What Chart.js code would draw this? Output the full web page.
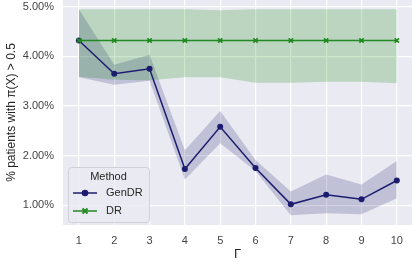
<!DOCTYPE html>
<html><head><meta charset="utf-8">
<script src="https://cdn.jsdelivr.net/npm/chart.js@4/dist/chart.umd.min.js"></script>
<style>html,body{margin:0;padding:0;background:#fff}#w{width:412px;height:262px}</style>
</head><body><div id="w"><canvas id="c" width="412" height="262"></canvas></div>
<script>
const gammas = [1,2,3,4,5,6,7,8,9,10];
const genDR      = [4.32,3.65,3.75,1.73,2.58,1.75,1.02,1.21,1.12,1.50];
const genDRUpper = [4.95,3.83,4.03,2.11,2.90,1.91,1.28,1.62,1.42,1.89];
const genDRLower = [3.58,3.43,3.51,1.52,2.25,1.69,0.80,0.84,0.82,1.14];
const dr      = [4.32,4.32,4.32,4.32,4.32,4.32,4.32,4.32,4.32,4.32];
const drUpper = [4.95,4.95,4.95,4.95,4.93,4.95,4.95,4.95,4.95,4.95];
const drLower = [3.59,3.53,3.52,3.58,3.58,3.47,3.47,3.49,3.49,3.46];
const yTicks = [1,2,3,4,5];
const seriesNames = ['GenDR','DR'];
const legendTitle = 'Method';

const navy = '#1c1c6e', green = '#238a23';
const pts = a => a.map((v,i)=>({x:gammas[i], y:v}));
const band = (d, fill, col) => ({data:pts(d), fill:fill, backgroundColor:col, borderWidth:0, pointRadius:0, showLine:true, tension:0});

const bgPlugin = {id:'bg', beforeDraw(ch){const a=ch.chartArea,c=ch.ctx;c.save();c.fillStyle='#EAEAF2';c.fillRect(a.left,a.top,a.right-a.left,a.bottom-a.top);c.restore();}};
const legendPlugin = {id:'lg', afterDraw(ch){
  const c=ch.ctx; c.save();
  const x=68,y=167,w=81,h=55,r=3;
  c.beginPath(); c.roundRect(x+0.5,y+0.5,w,h,r);
  c.fillStyle='rgba(234,234,242,0.8)'; c.fill(); c.strokeStyle='#d0d0d8'; c.lineWidth=1; c.stroke();
  c.fillStyle='#262626'; c.font='11px "Liberation Sans", Arial, sans-serif'; c.textBaseline='middle';
  c.textAlign='center'; c.fillText(legendTitle, x+w/2, 177);
  c.textAlign='left';
  const rows=[{n:seriesNames[0],y:193,col:navy,m:'circle'},{n:seriesNames[1],y:211,col:green,m:'x'}];
  rows.forEach(rw=>{
    c.strokeStyle=rw.col; c.lineWidth=1.5; c.beginPath(); c.moveTo(73,rw.y); c.lineTo(97,rw.y); c.stroke();
    if(rw.m==='circle'){c.fillStyle=rw.col;c.beginPath();c.arc(85,rw.y,3.3,0,Math.PI*2);c.fill();}
    else{c.strokeStyle=rw.col;c.lineWidth=2;c.beginPath();c.moveTo(82.5,rw.y-2.5);c.lineTo(87.5,rw.y+2.5);c.moveTo(87.5,rw.y-2.5);c.lineTo(82.5,rw.y+2.5);c.stroke();}
    c.fillStyle='#262626'; c.fillText(rw.n, 106, rw.y);
  });
  c.restore();
}};

Chart.defaults.font.family='"Liberation Sans", Arial, sans-serif';
new Chart(document.getElementById('c'), {
  type:'scatter',
  data:{datasets:[
    {label:'DR', data:pts(dr), showLine:true, borderColor:green, backgroundColor:green, borderWidth:1.5, pointStyle:'crossRot', pointRadius:3, pointBorderWidth:1.8, pointBorderColor:green, tension:0, fill:false},
    {label:'GenDR', data:pts(genDR), showLine:true, borderColor:navy, backgroundColor:navy, borderWidth:1.5, pointStyle:'circle', pointRadius:3, pointBorderWidth:0, tension:0, fill:false},
    band(drUpper,'+1','rgba(0,128,0,0.2)'),
    band(drLower,false,'rgba(0,0,0,0)'),
    band(genDRUpper,'+1','rgba(25,25,112,0.2)'),
    band(genDRLower,false,'rgba(0,0,0,0)')
  ]},
  options:{
    responsive:false, animation:false, devicePixelRatio:1,
    layout:{autoPadding:false, padding:{top:0,right:0,left:0,bottom:0}},
    plugins:{legend:{display:false}, tooltip:{enabled:false}},
    scales:{
      x:{type:'linear', min:0.55, max:10.43,
        afterBuildTicks(s){s.ticks=gammas.map(v=>({value:v}));},
        afterFit(s){s.height=37; s.paddingLeft=0; s.paddingRight=0;},
        grid:{color:'#ffffff', lineWidth:1.2, drawTicks:false}, border:{display:false},
        ticks:{color:'#444', font:{size:11}, padding:9, maxRotation:0, callback:v=>String(v)},
        title:{display:true, text:'Γ', color:'#262626', font:{size:13}, padding:{top:2,bottom:0}}
      },
      y:{type:'linear', min:0.603, max:5.135,
        afterBuildTicks(s){s.ticks=yTicks.map(v=>({value:v}));},
        afterFit(s){s.width=63; s.paddingTop=0; s.paddingBottom=0;},
        grid:{color:'#ffffff', lineWidth:1.2, drawTicks:false}, border:{display:false},
        ticks:{color:'#444', font:{size:11}, padding:9, callback:v=>v.toFixed(2)+'%'},
        title:{display:true, text:'% patients with π(X) > 0.5', color:'#262626', font:{size:12}, padding:{top:4,bottom:0}}
      }
    }
  },
  plugins:[bgPlugin, legendPlugin]
});
</script></body></html>
